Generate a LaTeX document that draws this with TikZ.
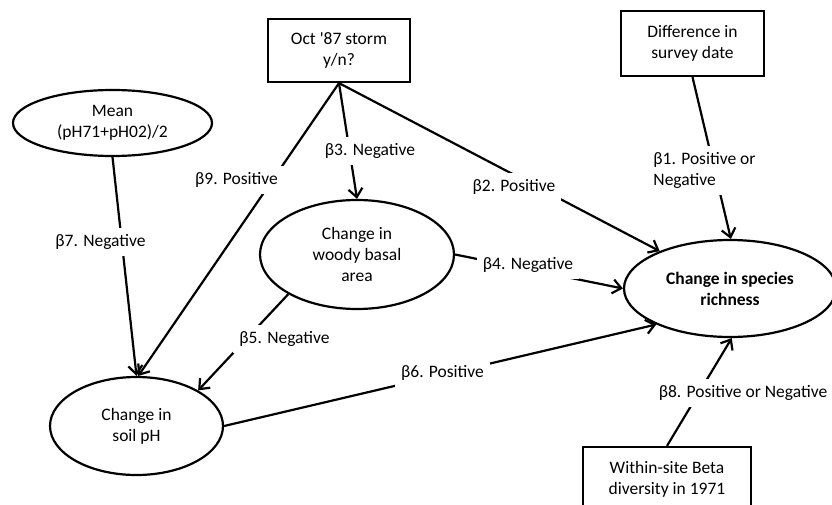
\documentclass[tikz,border=0pt]{standalone}
\usepackage{fontspec}
\setmainfont{Carlito}
\usetikzlibrary{arrows.meta,shapes.geometric}

\begin{document}
\begin{tikzpicture}[x=1pt,y=-1pt,line width=2.2pt,
  every node/.style={font=\fontsize{17.5}{21}\selectfont,align=center},
  boxnode/.style={draw,rectangle,inner sep=0pt},
  ovalnode/.style={draw,ellipse,inner sep=0pt},
  coef/.style={fill=white,inner sep=6pt},
  arr/.style={-{Straight Barb[length=8.5pt,width=14pt]}}]
\useasboundingbox (0,0) rectangle (832,505);
\clip (0,0) rectangle (832,505);
\node[boxnode,minimum width=142pt,minimum height=63pt] (storm) at (339,50.5) {Oct \textquotesingle87 storm\\y/n?};
\node[boxnode,minimum width=143pt,minimum height=65pt] (diff) at (692.5,43.5) {Difference in\\survey date};
\node[boxnode,minimum width=168pt,minimum height=65pt] (beta) at (667,479.5) {Within-site Beta\\diversity in 1971};
\node[ovalnode,minimum width=199pt,minimum height=66pt] (mean) at (112.5,123) {Mean\\(pH71+pH02)/2};
\node[ovalnode,minimum width=194pt,minimum height=109pt] (woody) at (357,254.5) {Change in\\woody basal\\area};
\node[ovalnode,minimum width=173pt,minimum height=98pt] (soil) at (136.5,426) {Change in\\soil pH};
\node[ovalnode,minimum width=212pt,minimum height=97pt,font=\fontsize{17.5}{21}\selectfont\bfseries] (rich) at (730,288.5) {Change in species\\richness};
% paths
\draw[arr] (mean.south) -- (soil.north);
\draw[arr] (storm.south) -- (soil.88);
\draw[arr] (storm.south) -- (woody.north);
\draw[arr] (storm.south) -- (rich.152);
\draw[arr] (diff.south) -- (rich.89);
\draw[arr] (woody.east) -- (rich.west);
\draw[arr] (woody.210) -- (soil.30);
\draw[arr] (soil.east) -- (rich.206);
\draw[arr] (beta.north) -- (rich.272);
% coefficients
\node[coef] (b7) at (100.5,242) {β7. Negative};
\node[coef] (b9) at (236.5,180) {β9. Positive};
\node[coef] (b3) at (370,151) {β3. Negative};
\node[coef] (b2) at (514,187) {β2. Positive};
\node[coef,align=left] (b1) at (704.5,170.5) {β1. Positive or\\Negative};
\node[coef] (b4) at (528,265) {β4. Negative};
\node[coef] (b5) at (284.5,339) {β5. Negative};
\node[coef] (b6) at (442.5,373) {β6. Positive};
\node[coef] (b8) at (743,393) {β8. Positive or Negative};
\end{tikzpicture}
\end{document}
